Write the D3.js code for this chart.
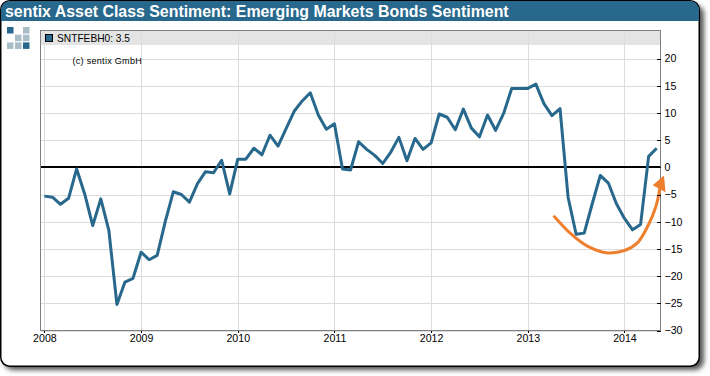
<!DOCTYPE html>
<html lang="en">
<head>
  <meta charset="UTF-8">
  <title>sentix Asset Class Sentiment</title>
  <script src="https://d3js.org/d3.v7.min.js"></script>
  <style>
    html, body { margin: 0; padding: 0; background: #fff; }
    svg { display: block; }
    text { font-family: "Liberation Sans", Arial, sans-serif; fill: #000; }
    .grid line { stroke: #dcdcdc; stroke-width: 1.3; shape-rendering: crispEdges; }
    .axis text { font-size: 10.6px; }
    .axis line { stroke: #000; shape-rendering: crispEdges; }
    .axis path { display: none; }
  </style>
</head>
<body>
  <svg width="710" height="376"></svg>

  <script>
    // Monthly readings, Jan 2008 to May 2014
    const values2008 = [-5.3, -5.5, -6.8, -5.7, -0.3, -4.9, -10.7, -5.8, -11.6, -25.2, -21.1, -20.4];
    const values2009 = [-15.6, -17, -16.2, -10, -4.5, -5, -6.4, -3, -0.8, -1, 1.3, -4.9];
    const values2010 = [1.5, 1.5, 3.5, 2.3, 5.9, 3.9, 7.1, 10.3, 12.2, 13.7, 9.6, 7];
    const values2011 = [8, -0.3, -0.5, 4.7, 3.3, 2.2, 0.7, 2.8, 5.5, 1.2, 5.3, 3.3];
    const values2012 = [4.5, 9.8, 9.2, 6.9, 10.7, 7.2, 5.6, 9.6, 6.8, 9.9, 14.5, 14.5];
    const values2013 = [14.5, 15.3, 11.7, 9.5, 10.8, -5.5, -12.3, -12.1, -6.7, -1.5, -2.9, -6.7];
    const values2014 = [-9.4, -11.5, -10.5, 2, 3.5];
    const series = [].concat(values2008, values2009, values2010, values2011, values2012, values2013, values2014);

    const yearLabels = ["2008", "2009", "2010", "2011", "2012", "2013", "2014"];
    const yTicks = [20, 15, 10, 5, 0, -5, -10, -15, -20, -25, -30];

    // Hand drawn orange arrow, in month index / sentiment units
    const arrowMonths = [63.2, 65.4, 67.4, 69.7, 72, 73.6, 74.9, 75.9, 76.4];
    const arrowValues = [-8.9, -12.3, -14.5, -15.7, -15.3, -13.9, -10.8, -7.2, -3.8];
    const headMonths = [76.9, 75.5, 77.1];
    const headValues = [-1.5, -3.3, -4.6];

    const svg = d3.select("svg");

    const x = d3.scaleLinear().domain([0, 76]).range([44.4, 656.7]);
    const y = d3.scaleLinear().domain([20, -30]).range([58.5, 330.5]);
    const plot = { left: 40.5, right: 660.5, top: 30.5, bottom: 330.5 };

    // Panel with shadow
    const defs = svg.append("defs");
    defs.append("filter").attr("id", "shadow")
      .attr("x", "-5%").attr("y", "-5%").attr("width", "110%").attr("height", "110%")
      .append("feGaussianBlur").attr("stdDeviation", 2.5);
    defs.append("clipPath").attr("id", "panel-clip")
      .append("rect").attr("x", 1).attr("y", 1).attr("width", 698).attr("height", 365).attr("rx", 9);

    svg.append("rect").attr("x", 4).attr("y", 5).attr("width", 700).attr("height", 365).attr("rx", 9)
      .attr("fill", "#555").attr("filter", "url(#shadow)");
    svg.append("rect").attr("x", 0.75).attr("y", 0.75).attr("width", 698.5).attr("height", 365.5).attr("rx", 9)
      .attr("fill", "#fff").attr("stroke", "#000").attr("stroke-width", 1.5);

    // Title band
    svg.append("rect").attr("clip-path", "url(#panel-clip)")
      .attr("x", 1).attr("y", 1).attr("width", 698).attr("height", 20).attr("fill", "#27688c");
    svg.append("text").attr("x", 5).attr("y", 17)
      .attr("font-size", 15.9).attr("font-weight", "bold").style("fill", "#fff")
      .text("sentix Asset Class Sentiment: Emerging Markets Bonds Sentiment");

    // Logo
    const logoCells = [[0, 0, 1], [2, 0, 0], [1, 1, 0], [2, 1, 0], [0, 2, 0], [1, 2, 0], [2, 2, 1]];
    svg.append("g").selectAll("rect").data(logoCells).join("rect")
      .attr("x", d => 7 + d[0] * 8).attr("y", d => 27 + d[1] * 7.7)
      .attr("width", 6.5).attr("height", 6.5)
      .attr("fill", d => d[2] ? "#27688c" : "#a9bcc8");

    // Legend band
    svg.append("rect").attr("x", plot.left).attr("y", plot.top)
      .attr("width", plot.right - plot.left).attr("height", 14.5).attr("fill", "#e4e4e4");

    // Grid
    const yearTicks = yearLabels.map((d, i) => i * 12);
    svg.append("g").attr("class", "grid").selectAll("line").data(yTicks).join("line")
      .attr("x1", plot.left).attr("x2", plot.right)
      .attr("y1", d => Math.round(y(d)) + 0.5).attr("y2", d => Math.round(y(d)) + 0.5);
    svg.append("g").attr("class", "grid").selectAll("line").data(yearTicks).join("line")
      .attr("x1", d => Math.round(x(d)) + 0.5).attr("x2", d => Math.round(x(d)) + 0.5)
      .attr("y1", plot.top).attr("y2", plot.bottom);

    // Zero line
    svg.append("line").attr("x1", plot.left).attr("x2", plot.right)
      .attr("y1", Math.round(y(0))).attr("y2", Math.round(y(0)))
      .attr("stroke", "#000").attr("stroke-width", 2).attr("shape-rendering", "crispEdges");

    // Series
    const line = d3.line().x((d, i) => x(i)).y(d => y(d));
    svg.append("path").datum(series)
      .attr("d", line).attr("fill", "none")
      .attr("stroke", "#27688c").attr("stroke-width", 3).attr("stroke-linejoin", "round");

    // Plot border
    svg.append("rect").attr("x", plot.left).attr("y", plot.top)
      .attr("width", plot.right - plot.left).attr("height", plot.bottom - plot.top)
      .attr("fill", "none").attr("stroke", "#808080").attr("stroke-width", 1.3)
      .attr("shape-rendering", "crispEdges");

    // Orange arrow
    const arrowPts = arrowMonths.map((m, i) => [x(m), y(arrowValues[i])]);
    svg.append("path")
      .attr("d", d3.line().curve(d3.curveCatmullRom)(arrowPts))
      .attr("fill", "none").attr("stroke", "#ee7f2f").attr("stroke-width", 3);
    svg.append("path")
      .attr("d", d3.line()(headMonths.map((m, i) => [x(m), y(headValues[i])])) + "Z")
      .attr("fill", "#ee7f2f");

    // Axes
    const yAxis = d3.axisRight(y).tickValues(yTicks).tickSize(0).tickPadding(4);
    const yG = svg.append("g").attr("class", "axis")
      .attr("transform", `translate(${plot.right},0)`).call(yAxis);
    yG.selectAll(".tick line").attr("x1", -4).attr("x2", 0);

    const xAxis = d3.axisBottom(x).tickValues(yearTicks)
      .tickFormat((d, i) => yearLabels[i]).tickSize(2).tickPadding(2);
    svg.append("g").attr("class", "axis")
      .attr("transform", `translate(0,${plot.bottom})`).call(xAxis);

    // Legend
    svg.append("rect").attr("x", 45.5).attr("y", 34.5).attr("width", 7).attr("height", 7)
      .attr("fill", "#27688c").attr("stroke", "#000");
    svg.append("text").attr("x", 57).attr("y", 42).attr("font-size", 10.2).text("SNTFEBH0: 3.5");

    // Copyright
    svg.append("text").attr("x", 72.5).attr("y", 64).attr("font-size", 9)
      .attr("letter-spacing", 0.3).text("(c) sentix GmbH");
  </script>
</body>
</html>
